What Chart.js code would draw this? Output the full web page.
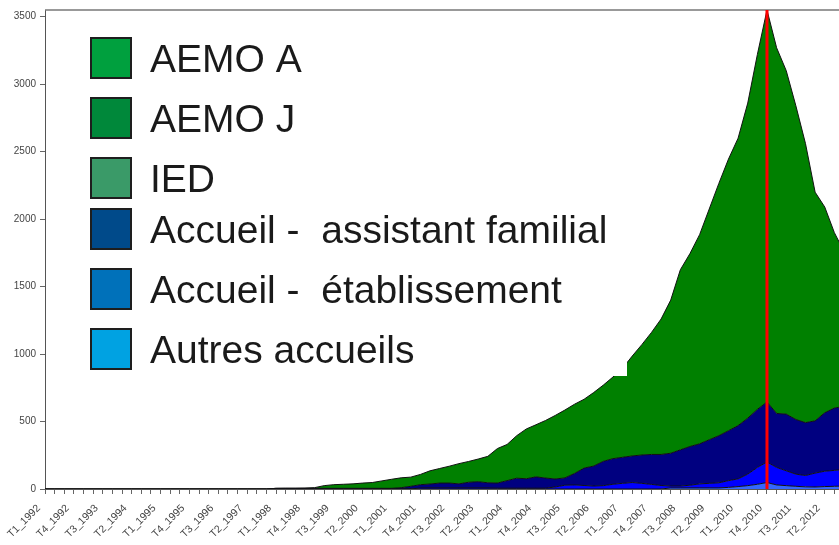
<!DOCTYPE html>
<html><head><meta charset="utf-8">
<script src="https://cdn.jsdelivr.net/npm/chart.js@4.4.1/dist/chart.umd.min.js"></script>
<style>
html,body{margin:0;padding:0;background:#fff;overflow:hidden;width:839px;height:545px}
#wrap{position:absolute;left:0;top:0;width:866px;height:545px}
</style></head><body>
<div id="wrap"><canvas id="c"></canvas></div>
<script>
const quarters = [
'T1_1992','T2_1992','T3_1992','T4_1992','T1_1993','T2_1993','T3_1993','T4_1993',
'T1_1994','T2_1994','T3_1994','T4_1994','T1_1995','T2_1995','T3_1995','T4_1995',
'T1_1996','T2_1996','T3_1996','T4_1996','T1_1997','T2_1997','T3_1997','T4_1997',
'T1_1998','T2_1998','T3_1998','T4_1998','T1_1999','T2_1999','T3_1999','T4_1999',
'T1_2000','T2_2000','T3_2000','T4_2000','T1_2001','T2_2001','T3_2001','T4_2001',
'T1_2002','T2_2002','T3_2002','T4_2002','T1_2003','T2_2003','T3_2003','T4_2003',
'T1_2004','T2_2004','T3_2004','T4_2004','T1_2005','T2_2005','T3_2005','T4_2005',
'T1_2006','T2_2006','T3_2006','T4_2006','T1_2007','T2_2007','T3_2007','T4_2007',
'T1_2008','T2_2008','T3_2008','T4_2008','T1_2009','T2_2009','T3_2009','T4_2009',
'T1_2010','T2_2010','T3_2010','T4_2010','T1_2011','T2_2011','T3_2011','T4_2011',
'T1_2012','T2_2012','T3_2012','T4_2012'
];

const aemo = [
0,0,0,0, 0,0,0,0, 0,0,0,0, 0,0,0,0, 0,0,0,0, 0,0,0,0,
0,1,1,2, 5,20,27,30, 33,39,43,55, 67,73,68,76,
98,108,125,150, 154,168,196,256, 268,315,369,386, 427,471,503,513,
510,545,565,605, 660,740,818,904, 1004,1135,1335,1430, 1550,1710,1870,2013,
2130,2335,2630,2905, 2710,2545,2325,2068, 1695,1525,1300,1148
];
const accueilAssistant = [
0,0,0,0, 0,0,0,0, 0,0,0,0, 0,0,0,0, 0,0,0,0, 0,0,0,0,
5,5,5,5, 5,5,5,5, 5,5,5,5, 5,10,20,24,
29,36,36,30, 42,46,38,38, 56,74,70,84, 75,59,54,85,
129,148,180,190, 193,197,210,222, 230,243,268,287, 297,323,349,370,
395,415,430,445, 400,420,405,392, 387,433,462,467
];
const accueilEtab = [
0,0,0,0, 0,0,0,0, 0,0,0,0, 0,0,0,0, 0,0,0,0, 0,0,0,0,
0,0,0,0, 0,0,0,0, 0,0,0,0, 0,0,0,8,
8,8,8,8, 8,8,8,6, 6,6,6,6, 6,15,28,30,
26,22,25,35, 42,48,42,34, 26,14,14,20, 30,34,38,50,
57,85,125,152, 130,110,90,84, 103,114,118,123
];
const autres = [
0,0,0,0, 0,0,0,0, 0,0,0,0, 0,0,0,0, 0,0,0,0, 0,0,0,0,
0,0,0,0, 0,0,0,0, 0,0,0,0, 0,0,0,0,
0,0,0,0, 0,0,0,0, 0,0,0,0, 0,0,0,0,
0,0,0,0, 0,0,0,0, 0,8,8,8, 8,8,8,12,
18,25,35,48, 30,25,20,16, 15,18,20,22
];

const legendLabels = ['AEMO A','AEMO J','IED','Accueil -  assistant familial','Accueil -  établissement','Autres accueils'];
const legendColors = ['#00a03e','#00883a','#3a9a68','#004a8a','#0071ba','#00a2e2'];
const yTicks = [0,500,1000,1500,2000,2500,3000,3500];
const markerQuarter = 'T4_2010';

const overlay = {
  id: 'overlay',
  afterDatasetsDraw(chart) {
    const ctx = chart.ctx, a = chart.chartArea;
    ctx.save();
    ctx.fillStyle = '#ffffff';
    ctx.fillRect(a.left + 1, a.top + 1, 627 - a.left - 1, 376 - a.top - 1);
    const tops = [37, 97, 157, 208, 268, 328];
    ctx.font = '39px "Liberation Sans", Arial, sans-serif';
    ctx.textBaseline = 'alphabetic';
    ctx.textAlign = 'left';
    legendLabels.forEach((t, i) => {
      const y = tops[i];
      ctx.fillStyle = legendColors[i];
      ctx.fillRect(91, y + 1, 40, 40);
      ctx.strokeStyle = '#1e1e1e';
      ctx.lineWidth = 2;
      ctx.strokeRect(91, y + 1, 40, 40);
      ctx.fillStyle = '#1a1a1a';
      ctx.fillText(t, 150, y + 35);
    });
    ctx.strokeStyle = '#777';
    ctx.lineWidth = 1.5;
    ctx.beginPath();
    ctx.moveTo(a.left, a.top);
    ctx.lineTo(a.right, a.top);
    ctx.stroke();
    const xs = chart.scales.x;
    const xp = xs.getPixelForValue(quarters.indexOf(markerQuarter));
    ctx.strokeStyle = '#ff0000';
    ctx.lineWidth = 3;
    ctx.beginPath();
    ctx.moveTo(xp, a.top);
    ctx.lineTo(xp, a.bottom);
    ctx.stroke();
    ctx.restore();
  }
};

const mk = (label, data, color, fill) => ({
  label, data, backgroundColor: color, borderColor: '#111', borderWidth: 1,
  fill, pointRadius: 0, tension: 0
});

new Chart(document.getElementById('c'), {
  type: 'line',
  data: {
    labels: quarters,
    datasets: [
      mk('Autres accueils', autres, '#3366ff', 'origin'),
      mk('Accueil -  établissement', accueilEtab, '#0000ff', '-1'),
      mk('Accueil -  assistant familial', accueilAssistant, '#000080', '-1'),
      mk('AEMO A', aemo, '#008000', '-1')
    ]
  },
  options: {
    responsive: true,
    maintainAspectRatio: false,
    animation: false,
    devicePixelRatio: 1,
    layout: { padding: { top: 8, right: 22, left: 0, bottom: 0 } },
    plugins: { legend: { display: false }, tooltip: { enabled: false } },
    scales: {
      x: {
        type: 'category',
        offset: false,
        grid: { display: true, drawOnChartArea: false, drawTicks: true, tickLength: 5, color: '#666' },
        border: { display: true, color: '#555', width: 1 },
        ticks: {
          autoSkip: false, maxRotation: 45, minRotation: 45, padding: 2,
          color: '#444', font: { family: '"Liberation Sans", Arial, sans-serif', size: 10.5 },
          callback: (v, i) => (i % 3 === 0 ? quarters[i] + '   ' : '')
        },
        afterFit: s => { s.height = 56; }
      },
      y: {
        stacked: true,
        min: 0, max: 3550,
        afterBuildTicks: s => { s.ticks = yTicks.map(v => ({ value: v })); },
        grid: { display: true, drawOnChartArea: false, drawTicks: true, tickLength: 5, color: '#666' },
        border: { display: true, color: '#555', width: 1 },
        ticks: {
          padding: 4, color: '#444',
          font: { family: '"Liberation Sans", Arial, sans-serif', size: 10 },
          callback: v => String(v)
        },
        afterFit: s => { s.width = 45; }
      }
    }
  },
  plugins: [overlay]
});
</script>
</body></html>
